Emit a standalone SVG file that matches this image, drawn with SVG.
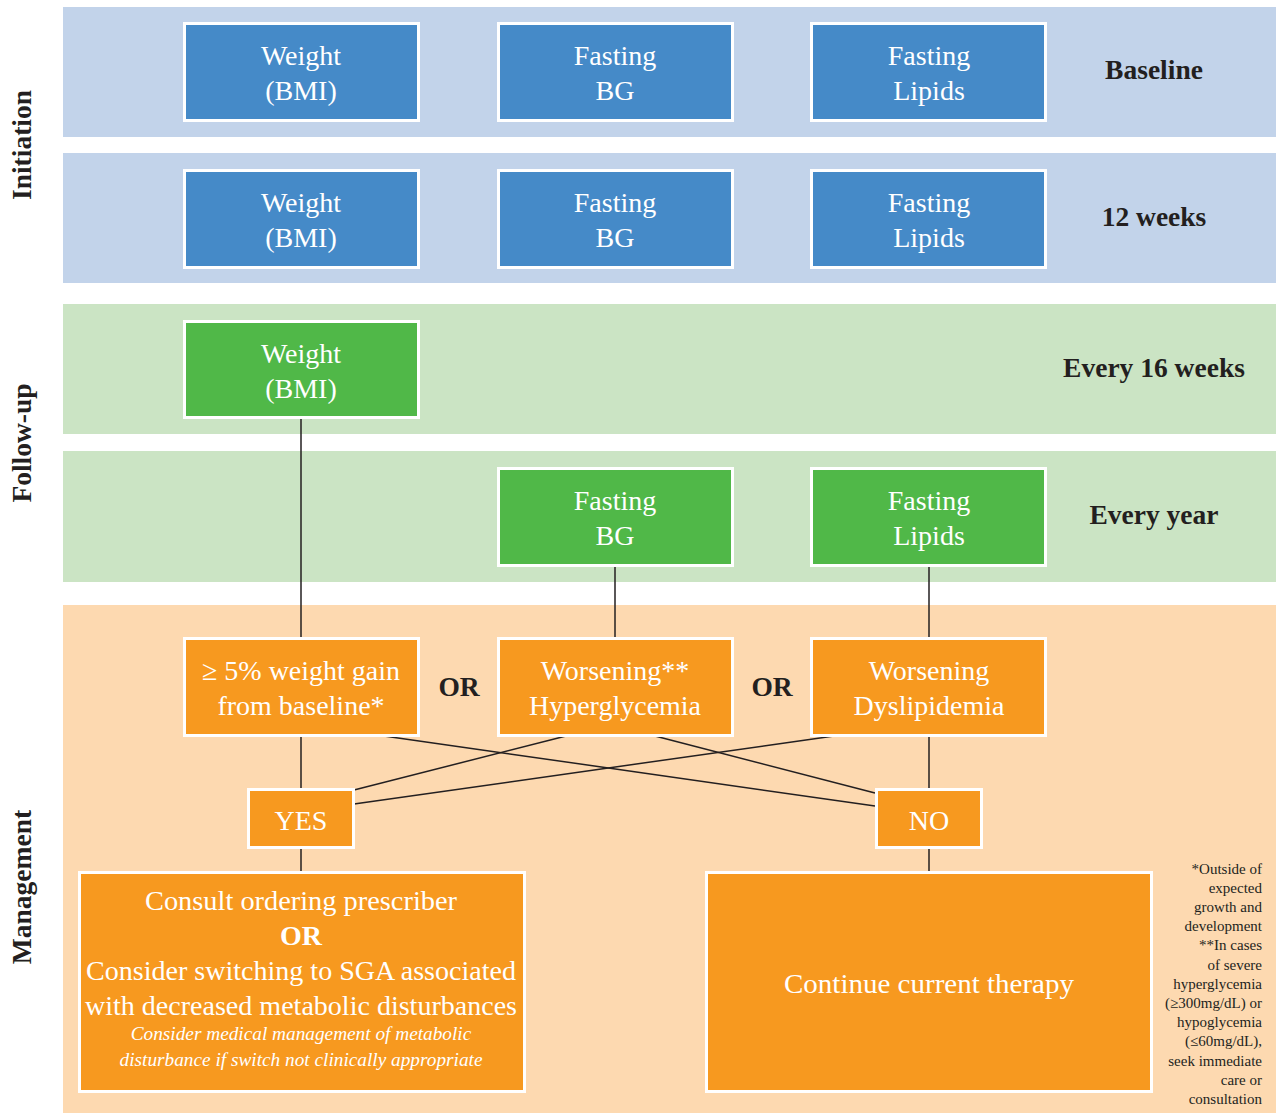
<svg xmlns="http://www.w3.org/2000/svg" width="1278" height="1113" viewBox="0 0 1278 1113">
<style>
.bb{fill:#C2D3EA}.gb{fill:#CBE4C4}.pb{fill:#FDD9B0}
.box{stroke:#fff;stroke-width:3}
.blue{fill:#458AC8}.green{fill:#50B848}.orange{fill:#F7991F}
.t{font-family:"Liberation Serif","DejaVu Serif",serif;fill:#fff;font-size:28px;text-anchor:middle}
.lab{font-family:"Liberation Serif","DejaVu Serif",serif;fill:#231F20;font-size:27.5px;font-weight:bold;text-anchor:middle}
.it{font-style:italic;font-size:19.3px}
.fn{font-family:"Liberation Serif","DejaVu Serif",serif;fill:#231F20;font-size:15px;text-anchor:end}
.ln{stroke:#231F20;stroke-width:1.5;fill:none}
</style>
<rect width="1278" height="1113" fill="#fff"/>
<g id="bands">
<rect class="bb" x="63" y="7" width="1213" height="130"/>
<rect class="bb" x="63" y="153" width="1213" height="130"/>
<rect class="gb" x="63" y="304" width="1213" height="130"/>
<rect class="gb" x="63" y="451" width="1213" height="131"/>
<rect class="pb" x="63" y="605" width="1213" height="508"/>
</g>
<g id="side-labels">
<text class="lab" transform="translate(31,145) rotate(-90)">Initiation</text>
<text class="lab" transform="translate(31,443) rotate(-90)">Follow-up</text>
<text class="lab" transform="translate(31,887) rotate(-90)">Management</text>
</g>
<g id="row-labels">
<text class="lab" x="1154" y="79">Baseline</text>
<text class="lab" x="1154" y="226">12 weeks</text>
<text class="lab" x="1154" y="377">Every 16 weeks</text>
<text class="lab" x="1154" y="524">Every year</text>
<text class="lab" x="459" y="696">OR</text>
<text class="lab" x="772" y="696">OR</text>
</g>
<g id="connectors">
<line class="ln" x1="301" y1="419" x2="301" y2="637"/>
<line class="ln" x1="615" y1="566" x2="615" y2="637"/>
<line class="ln" x1="929" y1="566" x2="929" y2="637"/>
<line class="ln" x1="301" y1="736" x2="301" y2="788"/>
<line class="ln" x1="301" y1="848" x2="301" y2="872"/>
<line class="ln" x1="929" y1="736" x2="929" y2="788"/>
<line class="ln" x1="929" y1="848" x2="929" y2="872"/>
<line class="ln" x1="384" y1="736" x2="875" y2="806"/>
<line class="ln" x1="566" y1="736" x2="354" y2="790"/>
<line class="ln" x1="655" y1="736" x2="875" y2="793"/>
<line class="ln" x1="834" y1="736" x2="354" y2="804"/>
</g>
<g id="baseline-weight"><rect class="box blue" x="184.5" y="23.5" width="234" height="97"/><text class="t" x="301" y="65">Weight</text><text class="t" x="301" y="100">(BMI)</text></g>
<g id="baseline-bg"><rect class="box blue" x="498.5" y="23.5" width="234" height="97"/><text class="t" x="615" y="65">Fasting</text><text class="t" x="615" y="100">BG</text></g>
<g id="baseline-lipids"><rect class="box blue" x="811.5" y="23.5" width="234" height="97"/><text class="t" x="929" y="65">Fasting</text><text class="t" x="929" y="100">Lipids</text></g>
<g id="w12-weight"><rect class="box blue" x="184.5" y="170.5" width="234" height="97"/><text class="t" x="301" y="212">Weight</text><text class="t" x="301" y="247">(BMI)</text></g>
<g id="w12-bg"><rect class="box blue" x="498.5" y="170.5" width="234" height="97"/><text class="t" x="615" y="212">Fasting</text><text class="t" x="615" y="247">BG</text></g>
<g id="w12-lipids"><rect class="box blue" x="811.5" y="170.5" width="234" height="97"/><text class="t" x="929" y="212">Fasting</text><text class="t" x="929" y="247">Lipids</text></g>
<g id="fu-weight"><rect class="box green" x="184.5" y="321.5" width="234" height="96"/><text class="t" x="301" y="363">Weight</text><text class="t" x="301" y="398">(BMI)</text></g>
<g id="fu-bg"><rect class="box green" x="498.5" y="468.5" width="234" height="97"/><text class="t" x="615" y="510">Fasting</text><text class="t" x="615" y="545">BG</text></g>
<g id="fu-lipids"><rect class="box green" x="811.5" y="468.5" width="234" height="97"/><text class="t" x="929" y="510">Fasting</text><text class="t" x="929" y="545">Lipids</text></g>
<g id="weight-gain"><rect class="box orange" x="184.5" y="638.5" width="234" height="97"/><text class="t" x="301" y="680">≥ 5% weight gain</text><text class="t" x="301" y="715">from baseline*</text></g>
<g id="hyperglycemia"><rect class="box orange" x="498.5" y="638.5" width="234" height="97"/><text class="t" x="615" y="680">Worsening**</text><text class="t" x="615" y="715">Hyperglycemia</text></g>
<g id="dyslipidemia"><rect class="box orange" x="811.5" y="638.5" width="234" height="97"/><text class="t" x="929" y="680">Worsening</text><text class="t" x="929" y="715">Dyslipidemia</text></g>
<g id="yes"><rect class="box orange" x="248.5" y="789.5" width="105" height="58"/><text class="t" x="301" y="830">YES</text></g>
<g id="no"><rect class="box orange" x="876.5" y="789.5" width="105" height="58"/><text class="t" x="929" y="830">NO</text></g>
<g id="consult"><rect class="box orange" x="79.5" y="872.5" width="445" height="219"/>
<text class="t" x="301" y="910" textLength="312" lengthAdjust="spacingAndGlyphs">Consult ordering prescriber</text>
<text class="t" x="301" y="945" font-weight="bold">OR</text>
<text class="t" x="301" y="980" textLength="430" lengthAdjust="spacingAndGlyphs">Consider switching to SGA associated</text>
<text class="t" x="301" y="1015" textLength="432" lengthAdjust="spacingAndGlyphs">with decreased metabolic disturbances</text>
<text class="t it" x="301" y="1040">Consider medical management of metabolic</text>
<text class="t it" x="301" y="1066">disturbance if switch not clinically appropriate</text>
</g>
<g id="continue"><rect class="box orange" x="706.5" y="872.5" width="445" height="219"/><text class="t" x="929" y="993" textLength="290" lengthAdjust="spacingAndGlyphs">Continue current therapy</text></g>
<g id="footnote">
<text class="fn" x="1262" y="874">*Outside of</text>
<text class="fn" x="1262" y="893">expected</text>
<text class="fn" x="1262" y="912">growth and</text>
<text class="fn" x="1262" y="931">development</text>
<text class="fn" x="1262" y="950">**In cases</text>
<text class="fn" x="1262" y="970">of severe</text>
<text class="fn" x="1262" y="989">hyperglycemia</text>
<text class="fn" x="1262" y="1008">(≥300mg/dL) or</text>
<text class="fn" x="1262" y="1027">hypoglycemia</text>
<text class="fn" x="1262" y="1046">(≤60mg/dL),</text>
<text class="fn" x="1262" y="1066">seek immediate</text>
<text class="fn" x="1262" y="1085">care or</text>
<text class="fn" x="1262" y="1104">consultation</text>
</g>
</svg>
